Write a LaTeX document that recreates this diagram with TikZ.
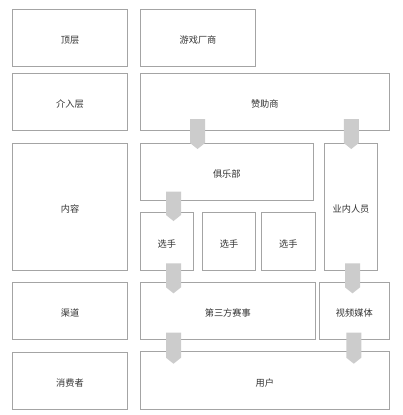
\documentclass[tikz,border=0pt]{standalone}
\usepackage{fontspec}
\setmainfont{Noto Sans CJK SC}
\definecolor{boxline}{HTML}{A4A4A4}
\definecolor{arrfill}{HTML}{CCCCCC}
\definecolor{txt}{HTML}{333333}
\newcommand\barrow[3]{\fill[arrfill] (#1-7.5,#2) -- (#1+7.5,#2) -- (#1+7.5,#3-6) -- (#1,#3) -- (#1-7.5,#3-6) -- cycle;}
\begin{document}
\begin{tikzpicture}[x=1pt,y=-1pt,
  box/.style={draw=boxline,line width=0.9pt,fill=white,inner sep=0pt,text=txt,font=\fontsize{9.2}{11}\selectfont},
  lbl/.style={text=txt,font=\fontsize{9.2}{11}\selectfont,inner sep=0pt}]
\useasboundingbox (0,0) rectangle (403,415);
\newcommand\bx[6]{\node[box,minimum width=#4-#2,minimum height=#5-#3] (#1) at ({(#2+#4)/2},{(#3+#5)/2}) {};
  \node[lbl,yshift=-2.5pt] (#1-t) at (#1.center) {#6};}
\bx{top}{12.3}{9}{127.7}{66}{顶层}
\bx{game}{140.3}{9}{255.7}{66}{游戏厂商}
\bx{jieru}{12.3}{73.3}{127.7}{130}{介入层}
\bx{sponsor}{140.3}{73.3}{389.3}{130}{赞助商}
\bx{content}{12.3}{143.3}{127.7}{270}{内容}
\bx{club}{140.3}{143.3}{313.3}{200.3}{俱乐部}
\bx{insider}{324.3}{143.3}{377.7}{270}{业内人员}
\bx{pa}{140.3}{212.3}{193.3}{270}{选手}
\bx{pb}{202.3}{212.3}{255.7}{270}{选手}
\bx{pc}{261.3}{212.3}{315.3}{270}{选手}
\bx{channel}{12.3}{282.3}{127.7}{339.3}{渠道}
\bx{third}{140.3}{282.3}{315.3}{339.3}{第三方赛事}
\bx{media}{319.3}{282.3}{389.3}{339.3}{视频媒体}
\bx{consumer}{12.3}{352.3}{127.7}{409.3}{消费者}
\bx{user}{140.3}{351}{389.3}{409.3}{用户}
\barrow{197.5}{119}{149}
\barrow{351.3}{119}{149}
\barrow{173.5}{191.7}{221}
\barrow{173.5}{263.3}{293.3}
\barrow{352.5}{263.3}{293.3}
\barrow{173.5}{332.7}{363.7}
\barrow{353.8}{332.7}{363.7}
\end{tikzpicture}
\end{document}
